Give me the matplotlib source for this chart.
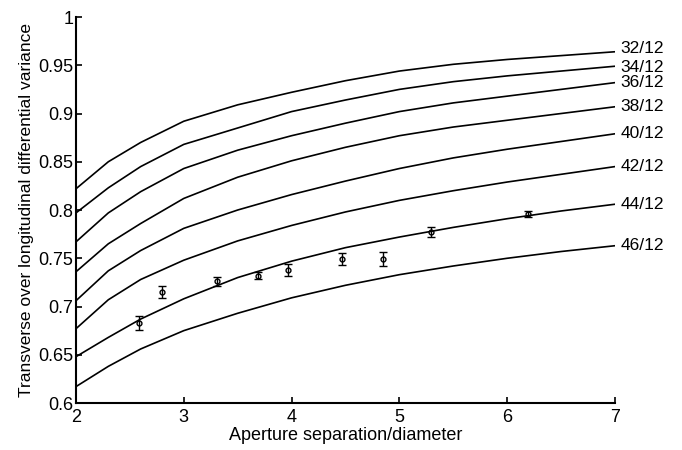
import numpy as np
import matplotlib
matplotlib.use("Agg")
import matplotlib.pyplot as plt

plt.rcParams['font.family'] = ['Liberation Sans', 'DejaVu Sans']

# model curves
sep = [2, 2.3, 2.6, 3, 3.5, 4, 4.5, 5, 5.5, 6, 6.5, 7]
labels = ['32/12', '34/12', '36/12', '38/12', '40/12', '42/12', '44/12', '46/12']
c32 = [0.822, 0.850, 0.870, 0.892, 0.909, 0.922, 0.934, 0.944, 0.951, 0.956, 0.960, 0.964]
c34 = [0.797, 0.823, 0.845, 0.868, 0.885, 0.902, 0.914, 0.925, 0.933, 0.939, 0.944, 0.949]
c36 = [0.767, 0.797, 0.819, 0.843, 0.862, 0.877, 0.890, 0.902, 0.911, 0.918, 0.925, 0.932]
c38 = [0.736, 0.765, 0.786, 0.812, 0.834, 0.851, 0.865, 0.877, 0.886, 0.893, 0.900, 0.907]
c40 = [0.706, 0.737, 0.758, 0.781, 0.800, 0.816, 0.830, 0.843, 0.854, 0.863, 0.871, 0.879]
c42 = [0.677, 0.707, 0.728, 0.748, 0.768, 0.784, 0.798, 0.810, 0.820, 0.829, 0.837, 0.845]
c44 = [0.648, 0.668, 0.687, 0.708, 0.730, 0.747, 0.761, 0.772, 0.782, 0.791, 0.799, 0.806]
c46 = [0.617, 0.638, 0.656, 0.675, 0.693, 0.709, 0.722, 0.733, 0.742, 0.750, 0.757, 0.763]
curves = [c32, c34, c36, c38, c40, c42, c44, c46]

# measured points
meas_x = [2.58, 2.80, 3.31, 3.69, 3.97, 4.47, 4.85, 5.29, 6.19]
meas_y = [0.683, 0.715, 0.726, 0.732, 0.738, 0.749, 0.749, 0.777, 0.796]
meas_err = [0.007, 0.006, 0.005, 0.004, 0.006, 0.006, 0.007, 0.005, 0.003]

fig = plt.figure(figsize=(6.82, 4.5), dpi=100)
ax = fig.add_axes([0.1114, 0.1044, 0.7904, 0.8578])

# small vertical nudges so the two top labels don't collide
nudge = {'32/12': 2, '34/12': -1}
for c, lab in zip(curves, labels):
    ax.plot(sep, c, color='black', lw=1.2)
    ax.annotate(lab, (sep[-1], c[-1]), xytext=(4, nudge.get(lab, 0)),
                textcoords='offset points', fontsize=12.5, va='center', ha='left',
                annotation_clip=False)

ax.errorbar(meas_x, meas_y, yerr=meas_err, fmt='o', color='black', mfc='none',
            ms=3.5, mew=1.0, elinewidth=1.0, capsize=3, capthick=1.0)

ax.set_xlim(2, 7)
ax.set_ylim(0.6, 1.0)
ax.set_xticks([2, 3, 4, 5, 6, 7])
ax.set_yticks([0.6, 0.65, 0.7, 0.75, 0.8, 0.85, 0.9, 0.95, 1.0])
ax.set_yticklabels(['0.6', '0.65', '0.7', '0.75', '0.8', '0.85', '0.9', '0.95', '1'])
ax.tick_params(direction='in', length=4, width=1.2, labelsize=13, pad=2)
ax.tick_params(axis='x', pad=4)
for s in ['top', 'right']:
    ax.spines[s].set_visible(False)
for s in ['left', 'bottom']:
    ax.spines[s].set_linewidth(1.5)

ax.set_xlabel('Aperture separation/diameter', fontsize=13, labelpad=1)
ax.set_ylabel('Transverse over longitudinal differential variance', fontsize=12.5, labelpad=3)

fig.savefig('out.png', dpi=100)
